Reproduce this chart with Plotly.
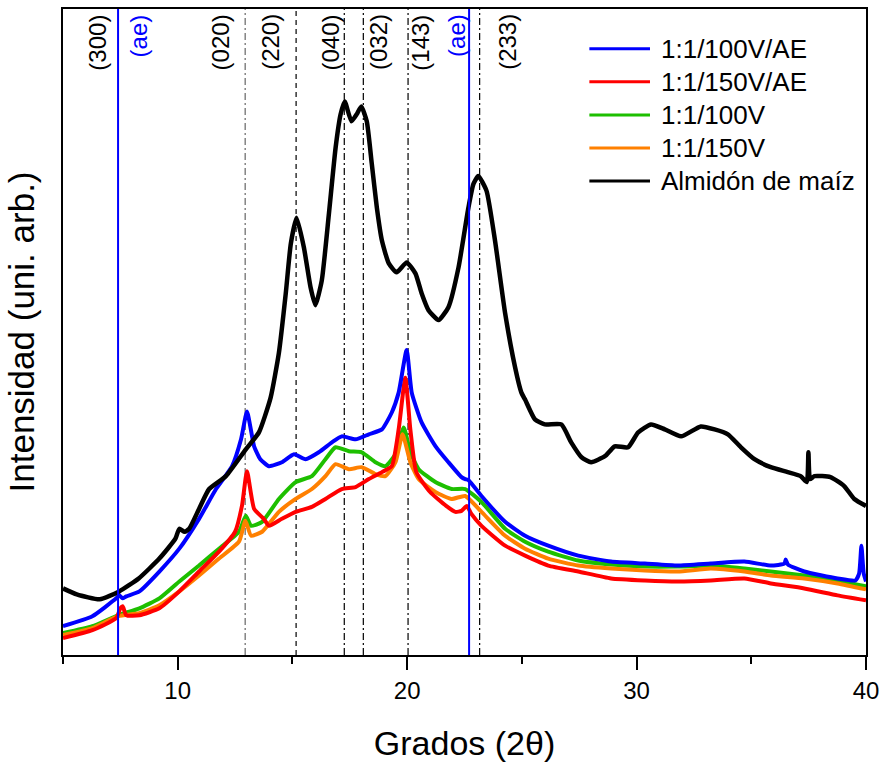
import plotly.graph_objects as go

# ---------------- data ----------------
# 2-theta (deg) and intensity (arbitrary units, 0 = bottom of plot)
x_almidon = [5.0, 5.6, 6.6, 7.45, 8.3, 9.2, 9.9, 10.07, 10.3, 10.5, 10.93, 11.37, 12.1, 12.97, 13.54,
             14.05, 14.41, 14.71, 14.93, 15.18, 15.5, 15.79, 16.0, 16.28, 16.59, 16.88, 17.1, 17.28,
             17.57, 17.8, 18.0, 18.24, 18.46, 18.68, 18.9, 19.2, 19.54, 19.98, 20.36, 20.63, 20.93,
             21.37, 21.8, 22.24, 22.67, 22.89, 23.1, 23.46, 23.83, 24.27, 24.7, 24.98, 25.14, 25.57,
             26.0, 26.72, 27.15, 27.6, 28.02, 28.62, 29.05, 29.63, 30.07, 30.63, 31.23, 31.94, 32.8,
             33.4, 33.98, 34.55, 35.14, 35.85, 36.59, 37.15, 37.42, 37.49, 37.56, 37.75, 38.45, 39.05,
             39.49, 40.0]
y_almidon = [67, 61, 56, 64, 77, 97, 117, 127, 124, 127, 147, 167, 180, 207, 224,
             259, 304, 364, 414, 440, 410, 370, 352, 377, 444, 510, 544, 557,
             537, 544, 552, 537, 494, 450, 417, 394, 385, 395, 384, 364, 347,
             337, 350, 390, 450, 474, 482, 467, 417, 344, 290, 264, 257, 237,
             232, 232, 214, 199, 194, 200, 210, 209, 224, 232, 227, 220, 230,
             227, 222, 209, 197, 189, 184, 180, 174, 204, 177, 180, 179, 170,
             157, 150]

x_100v_ae = [5.0, 6.28, 7.32, 7.45, 7.6, 7.76, 8.33, 9.2, 10.07, 10.93, 11.67, 12.37, 12.76, 13.02,
             13.33, 13.6, 13.98, 14.54, 15.07, 15.57, 16.15, 16.72, 17.15, 17.75, 18.33, 18.9, 19.33,
             19.63, 19.98, 20.2, 20.63, 21.24, 21.8, 22.37, 22.53, 22.67, 23.24, 24.27, 25.14, 26.15,
             27.46, 28.89, 30.36, 31.8, 33.24, 34.7, 35.85, 36.45, 36.5, 36.6, 37.31, 38.76, 39.54,
             39.7, 39.8, 39.9, 40.0]
y_100v_ae = [29, 39, 57, 60, 57, 59, 64, 84, 107, 137, 167, 190, 217, 245,
             210, 197, 190, 194, 202, 197, 204, 214, 220, 217, 222, 227, 244,
             264, 307, 264, 234, 210, 194, 179, 177, 176, 160, 134, 120, 110,
             100, 94, 92, 90, 92, 94, 90, 92, 96, 91, 84, 77, 75,
             82, 110, 82, 74]

x_150v_ae = [5.0, 6.28, 7.32, 7.5, 7.6, 7.76, 8.33, 9.2, 10.07, 10.93, 11.8, 12.5, 12.8, 13.02, 13.33,
             13.75, 13.98, 14.54, 15.14, 15.85, 16.44, 17.15, 17.75, 18.33, 18.9, 19.33, 19.63, 19.92,
             20.14, 20.4, 21.0, 21.7, 22.1, 22.37, 22.6, 22.8, 23.24, 24.27, 25.14, 26.15, 27.46,
             28.89, 30.36, 31.8, 33.24, 34.7, 35.85, 37.31, 38.76, 40.0]
y_150v_ae = [17, 25, 37, 47, 49, 40, 40, 47, 64, 84, 104, 124, 150, 185, 147,
             137, 130, 137, 144, 149, 157, 167, 169, 177, 184, 190, 227, 279,
             227, 184, 164, 150, 144, 145, 150, 142, 130, 110, 100, 90, 84,
             77, 75, 74, 75, 77, 72, 67, 60, 55]

x_100v = [5.0, 6.28, 7.4, 8.33, 9.2, 10.07, 10.93, 11.8, 12.67, 12.97, 13.2, 13.68, 14.41, 15.14,
          15.85, 16.44, 16.88, 17.46, 18.02, 18.62, 19.05, 19.49, 19.85, 20.14, 20.5, 21.23, 21.94,
          22.53, 23.24, 24.27, 25.14, 26.15, 27.46, 28.89, 30.36, 31.8, 33.24, 34.7, 35.85, 37.31,
          38.76, 40.0]
y_100v = [22, 29, 40, 47, 57, 74, 90, 107, 124, 140, 130, 134, 157, 174,
          180, 197, 209, 205, 204, 194, 190, 202, 229, 204, 187, 174, 167,
          167, 154, 127, 114, 104, 95, 91, 89, 89, 90, 87, 84, 80,
          75, 69]

x_150v = [5.0, 6.28, 7.4, 8.33, 9.2, 10.07, 10.93, 11.8, 12.67, 12.95, 13.2, 13.68, 14.41, 15.14,
          15.85, 16.44, 16.88, 17.46, 18.02, 18.62, 19.05, 19.49, 19.8, 20.14, 20.5, 21.23, 21.94,
          22.53, 23.24, 24.27, 25.14, 26.15, 27.46, 28.89, 30.36, 31.8, 33.24, 34.7, 35.85, 37.31,
          38.76, 40.0]
y_150v = [20, 27, 39, 42, 50, 64, 80, 97, 114, 135, 120, 124, 144, 157,
          167, 180, 192, 187, 189, 182, 180, 194, 222, 194, 177, 164, 157,
          160, 144, 120, 107, 97, 90, 87, 85, 84, 87, 84, 80, 77,
          72, 66]

series_names = ["1:1/100V/AE", "1:1/150V/AE", "1:1/100V", "1:1/150V", "Almidón de maíz"]
series_colors = ["#0000ff", "#ff0000", "#1dbf00", "#ff8000", "#000000"]

# reference reflections (hkl) and their positions
hkl_pos = [12.94, 15.16, 17.26, 18.09, 20.04, 23.16]
hkl_dash = ["7px,3px,2px,3px", "5px,4px", "7px,3px,2px,3px", "7px,3px,2px,3px",
            "7px,3px,2px,3px", "7px,3px,2px,3px"]
ae_pos = [7.40, 22.70]

label_text = ["(300)", "(ae)", "(020)", "(220)", "(040)", "(032)", "(143)", "(ae)", "(233)"]
label_x = [6.50, 8.30, 11.85, 14.05, 16.65, 18.72, 20.58, 22.18, 24.38]
label_is_ae = [False, True, False, False, False, False, False, True, False]

# ---------------- figure ----------------
FONT = "Liberation Sans, Arial, sans-serif"
fig = go.Figure()

data = {
    "1:1/100V/AE": (x_100v_ae, y_100v_ae),
    "1:1/150V/AE": (x_150v_ae, y_150v_ae),
    "1:1/100V": (x_100v, y_100v),
    "1:1/150V": (x_150v, y_150v),
    "Almidón de maíz": (x_almidon, y_almidon),
}
draw_order = ["1:1/100V", "1:1/150V", "1:1/150V/AE", "1:1/100V/AE", "Almidón de maíz"]
for name in draw_order:
    xs, ys = data[name]
    col = series_colors[series_names.index(name)]
    w = 4.5 if name == "Almidón de maíz" else 4
    fig.add_trace(go.Scatter(x=xs, y=ys, mode="lines", name=name,
                             line=dict(color=col, width=w, shape="spline", smoothing=0.5),
                             showlegend=False))

shapes = []
for i, xp in enumerate(hkl_pos):
    col = "#666666" if i == 0 else "#000000"
    shapes.append(dict(type="line", xref="x", yref="paper", x0=xp, x1=xp, y0=0, y1=1,
                       line=dict(color=col, width=1.2, dash=hkl_dash[i]), layer="below"))
for xp in ae_pos:
    shapes.append(dict(type="line", xref="x", yref="paper", x0=xp, x1=xp, y0=0, y1=1,
                       line=dict(color="#0000ff", width=2), layer="above"))

annotations = []
for t, xl, ae in zip(label_text, label_x, label_is_ae):
    annotations.append(dict(text=t, x=xl, y=0.995, xref="x", yref="paper", textangle=-90,
                            xanchor="center", yanchor="top", showarrow=False,
                            font=dict(family=FONT, size=24, color="#0000ff" if ae else "#000000")))

# manual legend (long line samples as in the reference)
leg_top = 0.9385
leg_step = 0.0512
for i, (nm, col) in enumerate(zip(series_names, series_colors)):
    yy = leg_top - i * leg_step
    shapes.append(dict(type="line", xref="paper", yref="paper", x0=0.6555, x1=0.731, y0=yy, y1=yy,
                       line=dict(color=col, width=3)))
    annotations.append(dict(text=nm, x=0.7423, y=yy, xref="paper", yref="paper",
                            xanchor="left", yanchor="middle", showarrow=False,
                            font=dict(family=FONT, size=26, color="#000000")))

fig.update_layout(
    width=886, height=763,
    margin=dict(l=63, r=16, t=7, b=106),
    paper_bgcolor="white", plot_bgcolor="white",
    shapes=shapes, annotations=annotations,
    font=dict(family=FONT, color="#000000"),
)
fig.update_xaxes(
    range=[5, 40], showgrid=False, zeroline=False,
    showline=True, linecolor="black", linewidth=2, mirror=True,
    ticks="outside", tickvals=[10, 20, 30, 40], ticklen=13, tickwidth=2, tickcolor="black",
    minor=dict(tickvals=[5, 15, 25, 35], ticks="outside", ticklen=7, tickwidth=2, tickcolor="black"),
    tickfont=dict(family=FONT, size=24, color="black"),
    title=dict(text="Grados (2θ)", font=dict(family=FONT, size=34, color="black"), standoff=28),
)
fig.update_yaxes(
    range=[0, 650], showgrid=False, zeroline=False,
    showline=True, linecolor="black", linewidth=2, mirror=True,
    ticks="", showticklabels=False,
    title=dict(text="Intensidad (uni. arb.)", font=dict(family=FONT, size=35, color="black"), standoff=16),
)

fig.write_html("out.html")
